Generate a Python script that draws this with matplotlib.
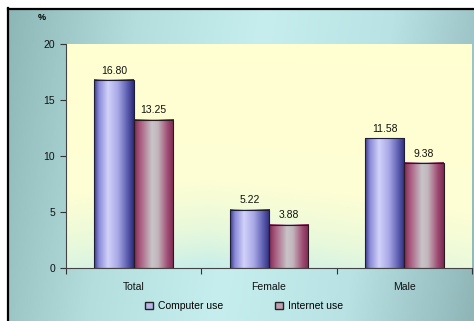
import numpy as np
import matplotlib
matplotlib.use("Agg")
import matplotlib.pyplot as plt
from matplotlib.patches import Patch
from matplotlib.colors import LinearSegmentedColormap

plt.rcParams['font.family'] = ['Liberation Sans', 'DejaVu Sans']

# data
categories = ["Total", "Female", "Male"]
computer_use = [16.80, 5.22, 11.58]
internet_use = [13.25, 3.88, 9.38]
series_names = ["Computer use", "Internet use"]

fig = plt.figure(figsize=(4.74, 3.21), dpi=100)
fig.patch.set_facecolor("white")

# background gradient (teal at sides, light cyan in the middle)
bg = fig.add_axes([8 / 474, 0, 1 - 8 / 474, 1 - 9 / 321], zorder=-10)
bg_cmap = LinearSegmentedColormap.from_list(
    "bg", ["#8db6b6", "#b4dede", "#c6eeee", "#b8e2e4", "#8fb5b7"])
gx = np.linspace(0, 1, 300)
gy = np.linspace(0, 1, 200)
GX, GY = np.meshgrid(gx, gy)
bg.imshow(GX * 0.9 + GY * 0.1, cmap=bg_cmap, aspect="auto",
          extent=[0, 1, 0, 1], origin="upper")
bg.set_axis_off()

# black frame lines at top / left
fig.add_artist(plt.Line2D([7.5 / 474, 7.5 / 474], [0, 1 - 8 / 321],
                          transform=fig.transFigure, color="black", lw=1.6))
fig.add_artist(plt.Line2D([7.5 / 474, 1], [1 - 8.5 / 321, 1 - 8.5 / 321],
                          transform=fig.transFigure, color="black", lw=1.6))

ax = fig.add_axes([66 / 474, 53 / 321, 406 / 474, 224 / 321])

# plot area: light yellow fading to light cyan near the bottom
pa_cmap = LinearSegmentedColormap.from_list("pa", ["#ffffd2", "#fdfed4", "#e6f8dc", "#c8eeea"])
PX, PY = np.meshgrid(np.linspace(0, 1, 200), np.linspace(0, 1, 200))
pa = np.clip(PY ** 2.2 * (1 - 0.6 * np.abs(PX - 0.35)), 0, 1)
ax.imshow(pa, cmap=pa_cmap, aspect="auto", extent=[-0.5, 2.5, 0, 20],
          origin="upper", zorder=0)

x = np.arange(len(categories))
w = 0.29
b1 = ax.bar(x - w / 2, computer_use, w, color="none", edgecolor="#1e1e38", lw=0.8, zorder=3)
b2 = ax.bar(x + w / 2, internet_use, w, color="none", edgecolor="#2a1a22", lw=0.8, zorder=3)

blue_cmap = LinearSegmentedColormap.from_list(
    "bl", [(0, "#3c3c8c"), (0.12, "#8a8ad8"), (0.35, "#d2d2fa"), (0.6, "#a8a8e6"),
           (0.85, "#5a5aae"), (1, "#2c2c78")])
red_cmap = LinearSegmentedColormap.from_list(
    "rd", [(0, "#7e2a52"), (0.15, "#a85a7e"), (0.45, "#c8c4c8"), (0.6, "#c2b6bc"),
           (0.85, "#a04a72"), (1, "#7a2a50")])
grad = np.linspace(0, 1, 100).reshape(1, -1)
for bars, cm in [(b1, blue_cmap), (b2, red_cmap)]:
    for r in bars:
        ax.imshow(grad, cmap=cm, aspect="auto", zorder=2,
                  extent=[r.get_x(), r.get_x() + r.get_width(), 0, r.get_height()])

for bars, vals in [(b1, computer_use), (b2, internet_use)]:
    for r, v in zip(bars, vals):
        ax.annotate(f"{v:.2f}", (r.get_x() + r.get_width() / 2, v),
                    xytext=(0, 3), textcoords="offset points",
                    ha="center", va="bottom", fontsize=7.5, color="#111111")

ax.set_xlim(-0.5, 2.5)
ax.set_ylim(0, 20)
ax.set_yticks([0, 5, 10, 15, 20])
ax.set_xticks([-0.5, 0.5, 1.5, 2.5])
ax.set_xticklabels([])
ax.set_xticks(x, minor=True)
ax.set_xticklabels(categories, minor=True)
ax.tick_params(axis="x", which="minor", length=0, pad=10, labelsize=7.5, labelcolor="#111111")
ax.tick_params(axis="x", which="major", length=4, direction="out", color="#333333")
ax.tick_params(axis="y", length=4, direction="out", labelsize=7.5, pad=4, color="#333333",
               labelcolor="#111111")
for s in ["top", "right"]:
    ax.spines[s].set_visible(False)
ax.spines["left"].set_color("#444444")
ax.spines["bottom"].set_color("#444444")
ax.spines["left"].set_linewidth(0.8)
ax.spines["bottom"].set_linewidth(0.8)

fig.text(42 / 474, 1 - 17 / 321, "%", fontsize=6.5, fontweight="bold", ha="center", va="center")

handles = [Patch(facecolor="#b8b8e8", edgecolor="#222222", lw=1.0),
           Patch(facecolor="#c0a0b0", edgecolor="#222222", lw=1.0)]
fig.legend(handles, series_names, loc="center", bbox_to_anchor=(0.515, 15 / 321),
           ncol=2, frameon=False, fontsize=7.5, handlelength=0.7, handleheight=0.7,
           handletextpad=0.5, columnspacing=5.0)

fig.savefig("out.png", dpi=100)
